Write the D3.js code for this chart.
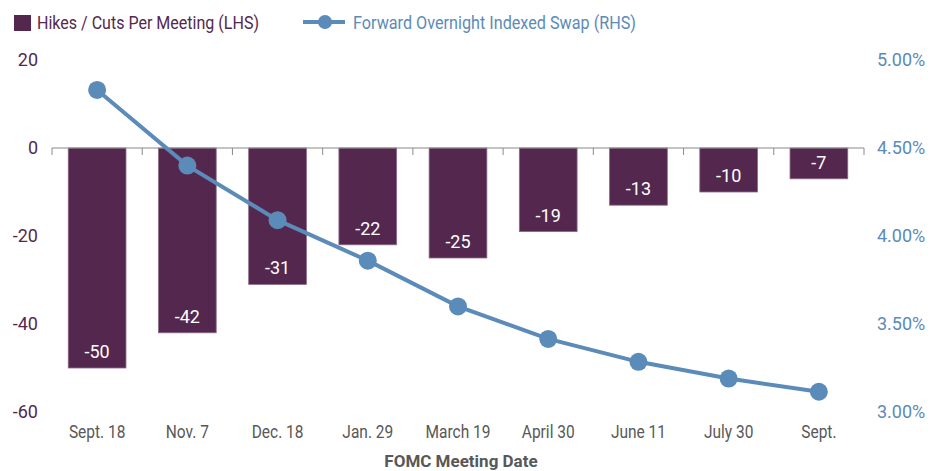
<!DOCTYPE html>
<html>
<head>
<meta charset="utf-8">
<script src="https://d3js.org/d3.v7.min.js"></script>
<style>
  body { margin: 0; background: #fff; }
  svg text { font-family: Roboto, "Open Sans", sans-serif; }
</style>
</head>
<body>
<svg width="942" height="471"></svg>
<script>
// data
var meetings = ["Sept. 18", "Nov. 7", "Dec. 18", "Jan. 29", "March 19", "April 30", "June 11", "July 30", "Sept."];
var hikesCuts = [-50, -42, -31, -22, -25, -19, -13, -10, -7];
var oisRate = [4.83, 4.40, 4.09, 3.86, 3.60, 3.415, 3.285, 3.19, 3.115];
var leftTicks = [20, 0, -20, -40, -60];
var rightTicks = [5.0, 4.5, 4.0, 3.5, 3.0];

var purple = "#54284e",
    blue = "#5b8bb8",
    grey = "#585858";

var svg = d3.select("svg");

// squeeze a text horizontally (the original font is a narrow one)
function squeeze(sel, k) {
  sel.each(function() {
    var w = this.getComputedTextLength();
    d3.select(this).attr("textLength", w * k).attr("lengthAdjust", "spacingAndGlyphs");
  });
}

var x = d3.scaleBand()
  .domain(meetings)
  .range([52, 864])
  .paddingInner(0.36)
  .paddingOuter(0.18);

var yL = d3.scaleLinear().domain([-60, 20]).range([412, 60]);
var yR = d3.scaleLinear().domain([3.0, 5.0]).range([412, 60]);

// bars
svg.append("g")
  .selectAll("rect")
  .data(hikesCuts)
  .enter().append("rect")
  .attr("x", function(d, i) { return x(meetings[i]); })
  .attr("y", yL(0))
  .attr("width", x.bandwidth())
  .attr("height", function(d) { return yL(d) - yL(0); })
  .style("fill", purple)
  .style("stroke", "#8d6a89")
  .style("stroke-width", 0.8);

// bar labels
svg.append("g")
  .selectAll("text")
  .data(hikesCuts)
  .enter().append("text")
  .attr("x", function(d, i) { return x(meetings[i]) + x.bandwidth() / 2; })
  .attr("y", function(d) { return yL(d) - 10; })
  .attr("text-anchor", "middle")
  .style("fill", "#fff")
  .style("font-size", "18px")
  .text(function(d) { return String(d); });

// zero line with ticks at the band edges
var edges = d3.range(meetings.length + 1).map(function(i) { return 52 + i * x.step(); });
svg.append("line")
  .attr("x1", 52).attr("x2", 864)
  .attr("y1", yL(0)).attr("y2", yL(0))
  .style("stroke", "#8a8a8a").style("stroke-width", 1.2);
svg.append("g")
  .selectAll("line")
  .data(edges)
  .enter().append("line")
  .attr("x1", function(d) { return d; }).attr("x2", function(d) { return d; })
  .attr("y1", yL(0)).attr("y2", yL(0) + 7)
  .style("stroke", "#8a8a8a").style("stroke-width", 1);

// left axis
var leftAxis = svg.append("g")
  .attr("transform", "translate(38,0)")
  .call(d3.axisLeft(yL).tickValues(leftTicks).tickSize(0).tickPadding(0)
    .tickFormat(function(d) { return String(d); }));
leftAxis.select(".domain").remove();
leftAxis.selectAll("text")
  .style("fill", purple)
  .style("font-size", "18px");

// right axis
var rightAxis = svg.append("g")
  .attr("transform", "translate(877,0)")
  .call(d3.axisRight(yR).tickValues(rightTicks).tickSize(0).tickPadding(0)
    .tickFormat(function(d) { return d.toFixed(2) + "%"; }));
rightAxis.select(".domain").remove();
rightAxis.selectAll("text")
  .style("fill", blue)
  .style("font-size", "18px");

// bottom category labels
var bottomAxis = svg.append("g")
  .attr("transform", "translate(0,425)")
  .call(d3.axisBottom(x).tickSize(0).tickPadding(0));
bottomAxis.select(".domain").remove();
bottomAxis.selectAll("text")
  .style("fill", grey)
  .style("font-size", "18px")
  .call(squeeze, 0.86);

svg.append("text")
  .attr("x", 461).attr("y", 467)
  .attr("text-anchor", "middle")
  .style("fill", grey)
  .style("font-size", "17px")
  .style("font-weight", "bold")
  .text("FOMC Meeting Date");

// OIS line
var line = d3.line()
  .x(function(d, i) { return x(meetings[i]) + x.bandwidth() / 2; })
  .y(function(d) { return yR(d); });

svg.append("path")
  .datum(oisRate)
  .attr("d", line)
  .style("fill", "none")
  .style("stroke", blue)
  .style("stroke-width", 4);

svg.append("g")
  .selectAll("circle")
  .data(oisRate)
  .enter().append("circle")
  .attr("cx", function(d, i) { return x(meetings[i]) + x.bandwidth() / 2; })
  .attr("cy", function(d) { return yR(d); })
  .attr("r", 9)
  .style("fill", blue);

// legend
var legend = svg.append("g");
legend.append("rect")
  .attr("x", 14).attr("y", 15).attr("width", 17).attr("height", 16)
  .style("fill", purple);
legend.append("text")
  .attr("x", 37).attr("y", 29)
  .style("fill", purple)
  .style("font-size", "18px")
  .attr("textLength", 222).attr("lengthAdjust", "spacingAndGlyphs")
  .text("Hikes / Cuts Per Meeting (LHS)");
legend.append("line")
  .attr("x1", 303).attr("x2", 345).attr("y1", 22).attr("y2", 22)
  .style("stroke", blue).style("stroke-width", 4);
legend.append("circle")
  .attr("cx", 325).attr("cy", 22).attr("r", 7)
  .style("fill", blue);
legend.append("text")
  .attr("x", 353).attr("y", 29)
  .style("fill", blue)
  .style("font-size", "18px")
  .attr("textLength", 283).attr("lengthAdjust", "spacingAndGlyphs")
  .text("Forward Overnight Indexed Swap (RHS)");
</script>
</body>
</html>
